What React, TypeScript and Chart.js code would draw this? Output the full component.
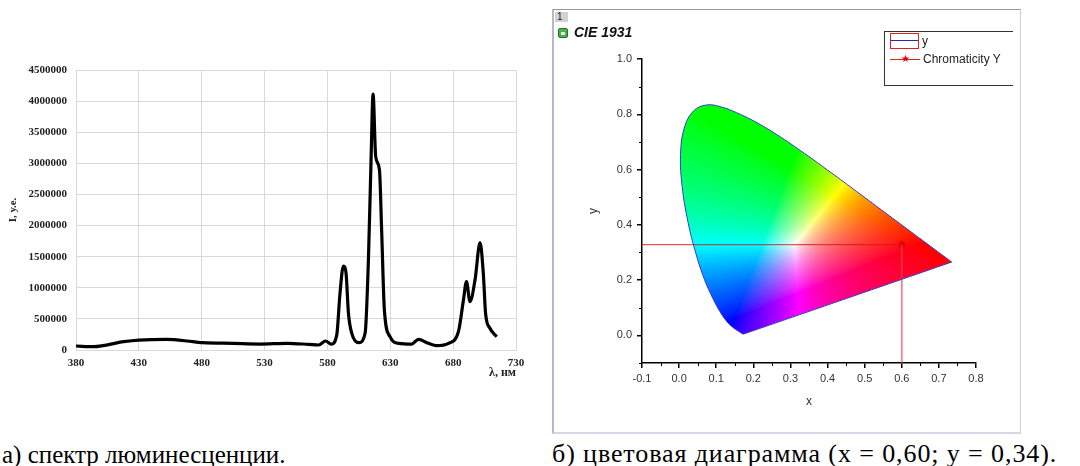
import React, { useEffect, useRef } from "react";
import { Chart, registerables } from "chart.js";
Chart.register(...registerables);

// ---------- Panel (a): luminescence spectrum ----------
const wavelengths = [380, 394, 418, 430, 452, 473, 481, 505, 526, 548, 565, 573, 578.5, 583, 587.4, 590, 592.7, 594.8, 596.7, 599.3, 605, 610, 612.6, 614.7, 616.3, 618.4, 621.4, 623.2, 625.3, 629.8, 636.5, 647, 652.4, 660.3, 667, 676.3, 684.2, 688.2, 690.6, 693.4, 697.4, 701.4, 704, 705.8, 709.3, 714.6];
const intensity = [64000, 53000, 134000, 160000, 172000, 134000, 118000, 107000, 96000, 107000, 90000, 80000, 145000, 96000, 240000, 911000, 1350000, 1236000, 594000, 273000, 118000, 273000, 1447000, 3054000, 4111000, 3108000, 2894000, 1876000, 643000, 214000, 107000, 96000, 172000, 107000, 70000, 107000, 295000, 804000, 1099000, 777000, 1125000, 1725000, 1233000, 590000, 349000, 214000];
const spectrumXTicks = [380, 430, 480, 530, 580, 630, 680, 730];
const spectrumYTicks = [0, 500000, 1000000, 1500000, 2000000, 2500000, 3000000, 3500000, 4000000, 4500000];

// ---------- Panel (b): CIE 1931 chromaticity ----------
const locusX = [0.1741, 0.1740, 0.1738, 0.1736, 0.1733, 0.1730, 0.1726, 0.1721, 0.1714, 0.1703, 0.1689, 0.1669, 0.1644, 0.1611, 0.1566, 0.1510, 0.1440, 0.1355, 0.1241, 0.1096, 0.0913, 0.0687, 0.0454, 0.0235, 0.0082, 0.0039, 0.0139, 0.0389, 0.0743, 0.1142, 0.1547, 0.1929, 0.2296, 0.2658, 0.3016, 0.3373, 0.3731, 0.4087, 0.4441, 0.4788, 0.5125, 0.5448, 0.5752, 0.6029, 0.6270, 0.6482, 0.6658, 0.6801, 0.6915, 0.7006, 0.7079, 0.7140, 0.7190, 0.7230, 0.7260, 0.7283, 0.7300, 0.7311, 0.7320, 0.7327, 0.7334, 0.7340, 0.7344, 0.7346, 0.7347, 0.1741];
const locusY = [0.0050, 0.0050, 0.0049, 0.0049, 0.0048, 0.0048, 0.0048, 0.0048, 0.0051, 0.0058, 0.0069, 0.0086, 0.0109, 0.0138, 0.0177, 0.0227, 0.0297, 0.0399, 0.0578, 0.0868, 0.1327, 0.2007, 0.2950, 0.4127, 0.5384, 0.6548, 0.7502, 0.8120, 0.8338, 0.8262, 0.8059, 0.7816, 0.7543, 0.7243, 0.6923, 0.6589, 0.6245, 0.5896, 0.5547, 0.5202, 0.4866, 0.4544, 0.4242, 0.3965, 0.3725, 0.3514, 0.3340, 0.3197, 0.3083, 0.2993, 0.2920, 0.2859, 0.2809, 0.2770, 0.2740, 0.2717, 0.2700, 0.2689, 0.2680, 0.2673, 0.2666, 0.2660, 0.2656, 0.2654, 0.2653, 0.0050];
const pointX = 0.6;
const pointY = 0.328;
const cieXMin = -0.1;
const cieYMin = -0.1;
const cieXMajor = [-0.1, 0, 0.1, 0.2, 0.3, 0.4, 0.5, 0.6, 0.7, 0.8];
const cieXMinor = [-0.05, 0.05, 0.15, 0.25, 0.35, 0.45, 0.55, 0.65, 0.75];
const cieYMajor = [0, 0.2, 0.4, 0.6, 0.8, 1.0];
const cieYMinor = [-0.1, 0.1, 0.3, 0.5, 0.7, 0.9];

const serif = "'Liberation Serif', 'Times New Roman', serif";
const sans = "'Liberation Sans', Arial, sans-serif";

const gamutPlugin = {
  id: "gamut",
  beforeDatasetsDraw(chart: any) {
    const { ctx, scales, chartArea } = chart;
    const xs = scales.x, ys = scales.y;
    const pts = locusX.map((vx, i) => [xs.getPixelForValue(vx), ys.getPixelForValue(locusY[i])]);
    let minX = Infinity, minY = Infinity, maxX = -Infinity, maxY = -Infinity;
    pts.forEach(([a, b]) => { minX = Math.min(minX, a); maxX = Math.max(maxX, a); minY = Math.min(minY, b); maxY = Math.max(maxY, b); });
    minX = Math.floor(minX) - 3; minY = Math.floor(minY) - 3;
    const w = Math.ceil(maxX - minX) + 6, h = Math.ceil(maxY - minY) + 6;
    const off = document.createElement("canvas");
    off.width = w; off.height = h;
    const octx = off.getContext("2d")!;
    const img = octx.createImageData(w, h);
    for (let py = 0; py < h; py++) {
      const cy = ys.getValueForPixel(minY + py + 0.5);
      if (cy <= 0.0005) continue;
      for (let px = 0; px < w; px++) {
        const cx = xs.getValueForPixel(minX + px + 0.5);
        const X = cx / cy, Y = 1, Z = (1 - cx - cy) / cy;
        let r = 3.2406 * X - 1.5372 * Y - 0.4986 * Z;
        let g = -0.9689 * X + 1.8758 * Y + 0.0415 * Z;
        let b = 0.0557 * X - 0.2040 * Y + 1.0570 * Z;
        r = Math.max(0, r); g = Math.max(0, g); b = Math.max(0, b);
        const m = Math.max(r, g, b);
        if (m <= 0) continue;
        const k = (py * w + px) * 4;
        img.data[k] = Math.round(255 * Math.pow(r / m, 0.75));
        img.data[k + 1] = Math.round(255 * Math.pow(g / m, 0.75));
        img.data[k + 2] = Math.round(255 * Math.pow(b / m, 0.75));
        img.data[k + 3] = 255;
      }
    }
    octx.putImageData(img, 0, 0);
    ctx.save();
    ctx.beginPath();
    let done = false;
    try {
      const line = chart.getDatasetMeta(0).dataset;
      if (line && typeof line.path === "function") {
        if (typeof line.updateControlPoints === "function") line.updateControlPoints(chartArea, "x");
        line.path(ctx);
        done = true;
      }
    } catch (e) {
      done = false;
    }
    if (!done) {
      ctx.beginPath();
      pts.forEach(([a, b], i) => (i === 0 ? ctx.moveTo(a, b) : ctx.lineTo(a, b)));
    }
    ctx.closePath();
    ctx.clip();
    ctx.drawImage(off, minX, minY);
    ctx.restore();
  },
};

const minorTicksPlugin = {
  id: "minorTicks",
  afterDraw(chart: any) {
    const { ctx, chartArea, scales } = chart;
    ctx.save();
    ctx.strokeStyle = "#000";
    ctx.lineWidth = 1;
    ctx.beginPath();
    cieXMinor.forEach((v) => {
      const p = Math.round(scales.x.getPixelForValue(v)) + 0.5;
      ctx.moveTo(p, chartArea.bottom);
      ctx.lineTo(p, chartArea.bottom + 3);
    });
    cieYMinor.forEach((v) => {
      const p = Math.round(scales.y.getPixelForValue(v)) + 0.5;
      ctx.moveTo(chartArea.left - 3, p);
      ctx.lineTo(chartArea.left, p);
    });
    ctx.stroke();
    ctx.restore();
  },
};

function SpectrumChart() {
  const ref = useRef<HTMLCanvasElement>(null);
  useEffect(() => {
    const tickFont = { family: serif, size: 11, weight: "bold" as const };
    const chart = new Chart(ref.current!, {
      type: "scatter",
      data: {
        datasets: [
          {
            data: wavelengths.map((x, i) => ({ x, y: intensity[i] })),
            showLine: true,
            borderColor: "#000",
            borderWidth: 3.2,
            pointRadius: 0,
            cubicInterpolationMode: "monotone",
          } as any,
        ],
      },
      options: {
        responsive: false,
        animation: false,
        events: [],
        layout: { padding: { left: 0, top: 70, right: 24, bottom: 0 } },
        plugins: { legend: { display: false }, tooltip: { enabled: false } },
        scales: {
          x: {
            type: "linear",
            min: 380,
            max: 730,
            afterBuildTicks: (s: any) => { s.ticks = spectrumXTicks.map((v) => ({ value: v })); },
            afterFit: (s: any) => { s.height = 50; },
            grid: { color: "#d9d9d9", drawTicks: false },
            border: { color: "#d9d9d9" },
            ticks: { font: tickFont, color: "#222", padding: 7, maxRotation: 0, callback: (v: any) => String(v) },
            title: { display: true, text: "λ, нм", align: "end", font: { family: serif, size: 12, weight: "bold" }, color: "#222", padding: { top: 0, bottom: 20 } },
          },
          y: {
            min: 0,
            max: 4500000,
            afterBuildTicks: (s: any) => { s.ticks = spectrumYTicks.map((v) => ({ value: v })); },
            afterFit: (s: any) => { s.width = 76; },
            grid: { color: "#d9d9d9", drawTicks: false },
            border: { color: "#d9d9d9" },
            ticks: { font: tickFont, color: "#222", padding: 9, callback: (v: any) => String(v) },
            title: { display: true, text: "I, у.е.", font: { family: serif, size: 11, weight: "bold" }, color: "#222", padding: { top: 7, bottom: 0 } },
          },
        },
      },
    });
    return () => chart.destroy();
  }, []);
  return <canvas ref={ref} width={540} height={400} style={{ position: "absolute", left: 0, top: 0, width: 540, height: 400 }} />;
}

function CieChart() {
  const ref = useRef<HTMLCanvasElement>(null);
  useEffect(() => {
    const tickFont = { family: sans, size: 11 };
    const chart = new Chart(ref.current!, {
      type: "scatter",
      data: {
        datasets: [
          {
            label: "y",
            data: locusX.map((x, i) => ({ x, y: locusY[i] })),
            showLine: true,
            borderColor: "#3a3ac8",
            borderWidth: 1,
            pointRadius: 0,
            tension: 0.4,
          },
          {
            label: "h",
            data: [{ x: cieXMin, y: pointY }, { x: pointX, y: pointY }],
            showLine: true,
            borderColor: "rgba(215,20,20,0.9)",
            borderWidth: 1,
            pointRadius: 0,
          },
          {
            label: "v",
            data: [{ x: pointX, y: pointY }, { x: pointX, y: cieYMin }],
            showLine: true,
            borderColor: "rgba(215,70,80,0.6)",
            borderWidth: 2,
            pointRadius: 0,
          },
          {
            label: "Chromaticity Y",
            data: [{ x: pointX, y: pointY }],
            pointStyle: "star",
            pointRadius: 4,
            borderColor: "#e00000",
            backgroundColor: "#e00000",
            borderWidth: 1.5,
          },
        ],
      },
      options: {
        responsive: false,
        animation: false,
        events: [],
        layout: { padding: { left: 0, top: 50, right: 44, bottom: 0 } },
        plugins: { legend: { display: false }, tooltip: { enabled: false } },
        scales: {
          x: {
            type: "linear",
            min: -0.1,
            max: 0.8,
            afterBuildTicks: (s: any) => { s.ticks = cieXMajor.map((v) => ({ value: v })); },
            afterFit: (s: any) => { s.height = 70; },
            grid: { drawOnChartArea: false, drawTicks: true, tickLength: 5, color: "#000", lineWidth: 1.5 },
            border: { color: "#000", width: 1.5 },
            ticks: { font: tickFont, color: "#333", padding: 4, maxRotation: 0, callback: (v: any) => Number(v).toFixed(1) },
            title: { display: true, text: "x", font: { family: sans, size: 12 }, color: "#333", padding: { top: 0, bottom: 24 } },
          },
          y: {
            min: -0.1,
            max: 1.0,
            afterBuildTicks: (s: any) => { s.ticks = cieYMajor.map((v) => ({ value: v })); },
            afterFit: (s: any) => { s.width = 90; },
            grid: { drawOnChartArea: false, drawTicks: true, tickLength: 5, color: "#000", lineWidth: 1.5 },
            border: { color: "#000", width: 1.5 },
            ticks: { font: tickFont, color: "#333", padding: 5, callback: (v: any) => Number(v).toFixed(1) },
            title: { display: true, text: "y", font: { family: sans, size: 12 }, color: "#333", padding: { top: 34, bottom: 0 } },
          },
        },
      },
      plugins: [gamutPlugin, minorTicksPlugin],
    });
    return () => chart.destroy();
  }, []);
  return <canvas ref={ref} width={468} height={424} style={{ position: "absolute", left: 552, top: 9, width: 468, height: 424 }} />;
}

export default function App() {
  return (
    <div style={{ position: "fixed", left: 0, top: 0, width: 1080, height: 466, background: "#fff", overflow: "hidden" }}>
      <SpectrumChart />
      <CieChart />
      {/* window frame */}
      <div style={{ position: "absolute", left: 552, top: 9, width: 466, height: 422, borderLeft: "2px solid #b6b6cc", borderTop: "1px solid #9a9a9a", borderBottom: "2px solid #d6d6e6", borderRight: "1px solid #d0d0d0", pointerEvents: "none" }} />
      <div style={{ position: "absolute", left: 555, top: 12, width: 13, height: 10, background: "#d2d2d2", fontFamily: sans, fontSize: 10, lineHeight: "10px", color: "#222", paddingLeft: 2, boxSizing: "border-box" }}>1</div>
      <div style={{ position: "absolute", left: 558, top: 28, width: 8, height: 8, background: "#4caf50", border: "1px solid #2e6b2e", borderRadius: 2 }}>
        <div style={{ position: "absolute", left: 2, top: 3, width: 4, height: 3, background: "#e8ffe8" }} />
      </div>
      <div style={{ position: "absolute", left: 574, top: 24, fontFamily: sans, fontStyle: "italic", fontWeight: "bold", fontSize: 14, lineHeight: "16px", color: "#111", whiteSpace: "nowrap" }}>CIE 1931</div>
      {/* legend */}
      <div style={{ position: "absolute", left: 884, top: 31, width: 128, height: 53, borderLeft: "1px solid #333", borderTop: "1px solid #333", borderBottom: "1px solid #333" }} />
      <div style={{ position: "absolute", left: 890, top: 33, width: 29, height: 16, border: "1px solid #e02020", boxSizing: "border-box" }}>
        <div style={{ position: "absolute", left: 0, top: 6, width: 27, height: 1, background: "#2828a8" }} />
      </div>
      <div style={{ position: "absolute", left: 922, top: 34, fontFamily: sans, fontSize: 12, lineHeight: "14px", color: "#222" }}>y</div>
      <div style={{ position: "absolute", left: 890, top: 59, width: 30, height: 1, background: "#e02020" }} />
      <div style={{ position: "absolute", left: 900, top: 53, width: 10, fontFamily: sans, fontSize: 10, lineHeight: "12px", color: "#e00000", textAlign: "center" }}>★</div>
      <div style={{ position: "absolute", left: 923, top: 52, fontFamily: sans, fontSize: 12, lineHeight: "14px", color: "#222", whiteSpace: "nowrap" }}>Chromaticity Y</div>
      {/* captions */}
      <div style={{ position: "absolute", left: 2, top: 442, fontFamily: serif, fontSize: 25, lineHeight: "25px", color: "#000", whiteSpace: "nowrap" }}>а) спектр люминесценции.</div>
      <div style={{ position: "absolute", left: 552, top: 441, fontFamily: serif, fontSize: 26, lineHeight: "26px", letterSpacing: "0.9px", color: "#000", whiteSpace: "nowrap" }}>б) цветовая диаграмма (x = 0,60; y = 0,34).</div>
    </div>
  );
}
